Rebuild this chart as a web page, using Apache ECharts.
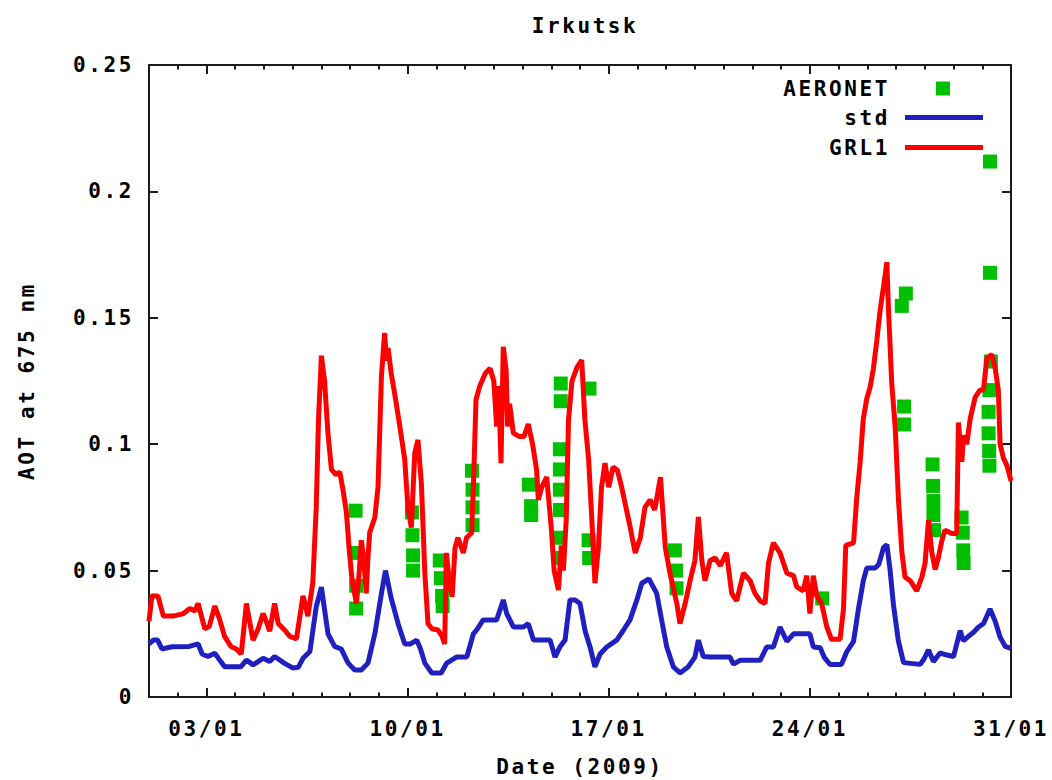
<!DOCTYPE html>
<html>
<head>
<meta charset="utf-8">
<script src="https://cdn.jsdelivr.net/npm/echarts@6/dist/echarts.min.js"></script>
<style>
  html, body { margin: 0; padding: 0; background: #fff; }
  #chart { width: 1052px; height: 780px; }
  /* wide terminal-style lettering */
  #chart svg text { letter-spacing: 2.6px; }
</style>
</head>
<body>
<div id="chart"></div>
<script>
// x values are days since 1 Jan 2009 00:00, y values are AOT at 675 nm.
const dateTickDays = [2, 9, 16, 23, 30];
const dateTickLabels = ['03/01', '10/01', '17/01', '24/01', '31/01'];

// AERONET sun-photometer retrievals [day, AOT]
const aeronet = [
  [7.19,0.0737],[7.19,0.057],[7.21,0.044],[7.21,0.035],
  [9.15,0.073],[9.17,0.064],[9.19,0.056],[9.19,0.050],
  [10.12,0.054],[10.16,0.047],[10.2,0.040],[10.22,0.036],
  [11.24,0.0895],[11.26,0.082],[11.26,0.075],[11.26,0.068],
  [13.22,0.084],[13.3,0.0755],[13.3,0.072],
  [14.33,0.124],[14.33,0.117],[14.3,0.098],[14.3,0.090],[14.3,0.082],[14.3,0.074],[14.28,0.063],[14.28,0.055],
  [15.33,0.122],[15.3,0.062],[15.32,0.055],
  [18.3,0.058],[18.34,0.050],[18.36,0.043],
  [23.43,0.039],
  [26.34,0.1596],[26.2,0.1547],[26.28,0.1149],[26.28,0.1078],
  [27.27,0.092],[27.29,0.0835],[27.3,0.0775],[27.3,0.072],[27.32,0.066],
  [28.28,0.071],[28.32,0.065],[28.34,0.058],[28.35,0.053],
  [29.27,0.2118],[29.27,0.1678],[29.3,0.1327],[29.25,0.1214],[29.22,0.1128],[29.22,0.1043],[29.24,0.0973],[29.25,0.0915]
];

// Standard model run [day, AOT]
const std = [
  [0.0,0.021],[0.15,0.0225],[0.3,0.0225],[0.45,0.019],[0.8,0.0199],[1.4,0.020],[1.71,0.021],[1.85,0.017],
  [2.05,0.016],[2.29,0.0173],[2.5,0.014],[2.63,0.012],[3.2,0.012],[3.39,0.0146],[3.62,0.0127],[3.97,0.0153],
  [4.2,0.014],[4.37,0.016],[4.72,0.0133],[5.0,0.0115],[5.2,0.0118],[5.36,0.0153],[5.6,0.018],[5.82,0.0357],
  [6.0,0.0435],[6.23,0.025],[6.46,0.020],[6.69,0.019],[6.93,0.0134],[7.16,0.0107],[7.39,0.0107],[7.62,0.0134],
  [7.86,0.025],[8.09,0.041],[8.23,0.050],[8.43,0.039],[8.67,0.029],[8.9,0.021],[9.1,0.021],[9.32,0.0225],
  [9.45,0.019],[9.6,0.0134],[9.84,0.0095],[10.17,0.0095],[10.36,0.0134],[10.7,0.0158],[11.06,0.0158],[11.29,0.025],
  [11.4,0.0265],[11.63,0.0305],[12.1,0.0305],[12.33,0.0384],[12.45,0.033],[12.68,0.0277],[13.03,0.0277],[13.2,0.029],
  [13.38,0.0225],[13.96,0.0225],[14.13,0.0158],[14.31,0.020],[14.48,0.0225],[14.65,0.0384],[14.83,0.0384],[15.0,0.037],
  [15.18,0.026],[15.35,0.0198],[15.52,0.0119],[15.7,0.017],[15.93,0.0198],[16.28,0.0225],[16.51,0.0264],[16.74,0.0305],
  [16.98,0.0384],[17.15,0.045],[17.4,0.0467],[17.67,0.041],[17.84,0.0305],[18.02,0.0198],[18.25,0.0119],[18.48,0.0095],
  [18.77,0.012],[19.0,0.0158],[19.12,0.0225],[19.29,0.016],[19.53,0.0158],[20.22,0.0158],[20.34,0.013],[20.57,0.0145],
  [21.27,0.0145],[21.5,0.0198],[21.73,0.0198],[21.96,0.0277],[22.2,0.022],[22.43,0.025],[23.0,0.025],[23.12,0.0198],
  [23.36,0.0195],[23.5,0.0157],[23.7,0.0129],[24.1,0.0129],[24.28,0.0178],[24.52,0.022],[24.69,0.0348],[24.86,0.046],
  [24.98,0.051],[25.27,0.051],[25.4,0.0525],[25.56,0.059],[25.68,0.0603],[25.79,0.0504],[25.91,0.0364],[26.08,0.0222],
  [26.26,0.0136],[26.84,0.0129],[26.95,0.0146],[27.13,0.0186],[27.3,0.014],[27.53,0.0174],[27.77,0.0166],[28.0,0.016],
  [28.23,0.0263],[28.34,0.0222],[28.52,0.024],[28.69,0.0255],[28.87,0.0277],[29.04,0.029],[29.27,0.0348],[29.45,0.030],
  [29.62,0.0237],[29.8,0.020],[30.0,0.0192]
];

// GRL1 model run [day, AOT]
const grl1 = [
  [0.0,0.030],[0.1,0.040],[0.31,0.040],[0.5,0.032],[0.84,0.032],[1.2,0.033],[1.42,0.035],[1.6,0.034],[1.71,0.037],
  [1.94,0.027],[2.1,0.028],[2.29,0.036],[2.45,0.031],[2.63,0.024],[2.85,0.020],[3.04,0.019],[3.21,0.017],[3.39,0.037],
  [3.5,0.030],[3.62,0.0225],[3.8,0.027],[3.97,0.033],[4.08,0.030],[4.2,0.026],[4.37,0.037],[4.5,0.029],[4.72,0.0265],
  [4.9,0.024],[5.13,0.023],[5.36,0.040],[5.45,0.036],[5.53,0.032],[5.7,0.045],[5.82,0.075],[5.9,0.11],[6.0,0.135],
  [6.11,0.125],[6.23,0.104],[6.35,0.090],[6.5,0.088],[6.64,0.089],[6.75,0.082],[6.87,0.073],[6.97,0.058],[7.07,0.046],
  [7.22,0.037],[7.32,0.050],[7.39,0.062],[7.47,0.055],[7.56,0.041],[7.62,0.055],[7.68,0.065],[7.86,0.071],[7.97,0.083],
  [8.09,0.127],[8.2,0.144],[8.27,0.133],[8.32,0.138],[8.43,0.128],[8.55,0.120],[8.73,0.107],[8.9,0.094],[9.01,0.075],
  [9.13,0.067],[9.25,0.0965],[9.36,0.1017],[9.48,0.0845],[9.6,0.049],[9.71,0.029],[9.85,0.027],[10.06,0.0265],[10.2,0.024],
  [10.29,0.021],[10.35,0.057],[10.45,0.046],[10.55,0.0396],[10.65,0.059],[10.75,0.063],[10.94,0.057],[11.05,0.063],[11.23,0.065],
  [11.3,0.087],[11.38,0.1175],[11.5,0.1226],[11.7,0.128],[11.87,0.130],[12.0,0.125],[12.1,0.107],[12.17,0.123],[12.25,0.0925],
  [12.33,0.1385],[12.43,0.129],[12.48,0.107],[12.55,0.116],[12.68,0.1044],[12.9,0.103],[13.05,0.103],[13.2,0.108],[13.35,0.100],
  [13.49,0.0898],[13.55,0.078],[13.67,0.083],[13.84,0.087],[14.0,0.067],[14.1,0.050],[14.25,0.0423],[14.35,0.060],[14.42,0.050],
  [14.52,0.070],[14.6,0.1096],[14.72,0.125],[14.9,0.1305],[15.06,0.1333],[15.17,0.1096],[15.3,0.094],[15.4,0.0728],[15.46,0.059],
  [15.52,0.045],[15.64,0.059],[15.75,0.083],[15.87,0.0925],[16.0,0.083],[16.15,0.091],[16.3,0.0897],[16.45,0.083],[16.6,0.075],
  [16.75,0.067],[16.92,0.057],[17.1,0.063],[17.26,0.075],[17.44,0.078],[17.6,0.074],[17.8,0.087],[17.97,0.059],[18.13,0.049],
  [18.37,0.037],[18.48,0.029],[18.66,0.037],[18.83,0.046],[19.0,0.054],[19.12,0.0712],[19.24,0.054],[19.35,0.046],[19.53,0.054],
  [19.7,0.055],[19.88,0.052],[20.1,0.057],[20.28,0.041],[20.45,0.038],[20.69,0.049],[20.92,0.046],[21.09,0.041],[21.27,0.038],
  [21.44,0.037],[21.56,0.053],[21.73,0.061],[21.96,0.057],[22.2,0.049],[22.43,0.048],[22.54,0.0436],[22.77,0.042],[22.89,0.048],
  [23.0,0.033],[23.12,0.048],[23.24,0.040],[23.41,0.037],[23.59,0.0277],[23.75,0.0228],[24.05,0.0228],[24.17,0.0348],[24.25,0.060],
  [24.52,0.061],[24.63,0.0786],[24.75,0.093],[24.86,0.110],[24.98,0.118],[25.1,0.1227],[25.21,0.1298],[25.33,0.141],[25.44,0.1525],
  [25.56,0.162],[25.68,0.172],[25.73,0.155],[25.85,0.124],[25.97,0.1068],[26.08,0.0787],[26.2,0.0575],[26.31,0.0475],[26.49,0.046],
  [26.72,0.042],[26.9,0.0475],[27.01,0.053],[27.13,0.070],[27.24,0.0575],[27.36,0.0504],[27.47,0.055],[27.59,0.0617],[27.7,0.066],
  [27.94,0.0647],[28.11,0.0647],[28.17,0.1086],[28.29,0.093],[28.34,0.1035],[28.46,0.100],[28.58,0.110],[28.75,0.1185],[28.92,0.1214],
  [29.04,0.1214],[29.16,0.134],[29.33,0.1355],[29.45,0.130],[29.56,0.1214],[29.62,0.100],[29.74,0.0944],[29.86,0.0915],[30.0,0.0855]
];

const FONT = 'DejaVu Sans Mono';
const FRAME = '#1a1a1a';
const textBase = { fontFamily: FONT, fontWeight: 'bold', fontSize: 21, color: '#000' };

const chart = echarts.init(document.getElementById('chart'), null, { renderer: 'svg' });

// Date axis pair: weekly labelled ticks plus daily small ticks
function dayAxis(position, withLabels) {
  return [
    {
      type: 'value', min: 0, max: 30, position,
      name: withLabels ? 'Date (2009)' : '',
      nameLocation: 'middle', nameGap: 59, nameTextStyle: { ...textBase },
      axisLine: { show: true, onZero: false, lineStyle: { color: FRAME, width: 2 } },
      axisTick: { show: true, inside: true, length: 9, customValues: dateTickDays,
                  lineStyle: { color: FRAME, width: 2 } },
      axisLabel: { show: withLabels, customValues: dateTickDays, margin: 21,
                   formatter: v => dateTickLabels[dateTickDays.indexOf(v)] || '', ...textBase },
      splitLine: { show: false }
    },
    {
      type: 'value', min: 0, max: 30, interval: 1, position,
      axisLine: { show: false, onZero: false },
      axisTick: { show: true, inside: true, length: 4.5, lineStyle: { color: FRAME, width: 2 } },
      axisLabel: { show: false },
      splitLine: { show: false }
    }
  ];
}

function aotAxis(position, withLabels) {
  return {
    type: 'value', min: 0, max: 0.25, interval: 0.05, position,
    name: withLabels ? 'AOT at 675 nm' : '',
    nameLocation: 'middle', nameGap: 112, nameRotate: 90, nameTextStyle: { ...textBase },
    axisLine: { show: true, onZero: false, lineStyle: { color: FRAME, width: 2 } },
    axisTick: { show: true, inside: true, length: 9, lineStyle: { color: FRAME, width: 2 } },
    axisLabel: { show: withLabels, margin: 15, ...textBase },
    splitLine: { show: false }
  };
}

const option = {
  animation: false,
  backgroundColor: '#fff',
  title: {
    text: 'Irkutsk', left: 580, top: 10, textAlign: 'center',
    textStyle: { ...textBase }
  },
  grid: { left: 149, right: 41, top: 65, bottom: 83, outerBoundsMode: 'none' },
  legend: [
    {
      data: ['AERONET'], orient: 'vertical', right: 102, top: 78, padding: 0, align: 'right',
      icon: 'rect', itemWidth: 14, itemHeight: 14, selectedMode: false,
      textStyle: { ...textBase, padding: [0, 41, 0, 0] }
    },
    {
      data: ['std', 'GRL1'], orient: 'vertical', right: 69, top: 107, padding: 0, align: 'right',
      icon: 'rect', itemWidth: 78, itemHeight: 5, itemGap: 9, selectedMode: false,
      textStyle: { ...textBase, padding: [0, 10, 0, 0] }
    }
  ],
  xAxis: [...dayAxis('bottom', true), ...dayAxis('top', false)],
  yAxis: [aotAxis('left', true), aotAxis('right', false)],
  series: [
    {
      name: 'AERONET', type: 'scatter', xAxisIndex: 0, yAxisIndex: 0,
      symbol: 'rect', symbolSize: 14,
      itemStyle: { color: '#00c000', opacity: 1 },
      data: aeronet, z: 2
    },
    {
      name: 'std', type: 'line', xAxisIndex: 0, yAxisIndex: 0,
      symbol: 'none', lineStyle: { color: '#2020c0', width: 5 },
      itemStyle: { color: '#2020c0' },
      data: std, z: 3
    },
    {
      name: 'GRL1', type: 'line', xAxisIndex: 0, yAxisIndex: 0,
      symbol: 'none', lineStyle: { color: '#ff0000', width: 5 },
      itemStyle: { color: '#ff0000' },
      data: grl1, z: 4
    }
  ]
};

chart.setOption(option);
</script>
</body>
</html>
